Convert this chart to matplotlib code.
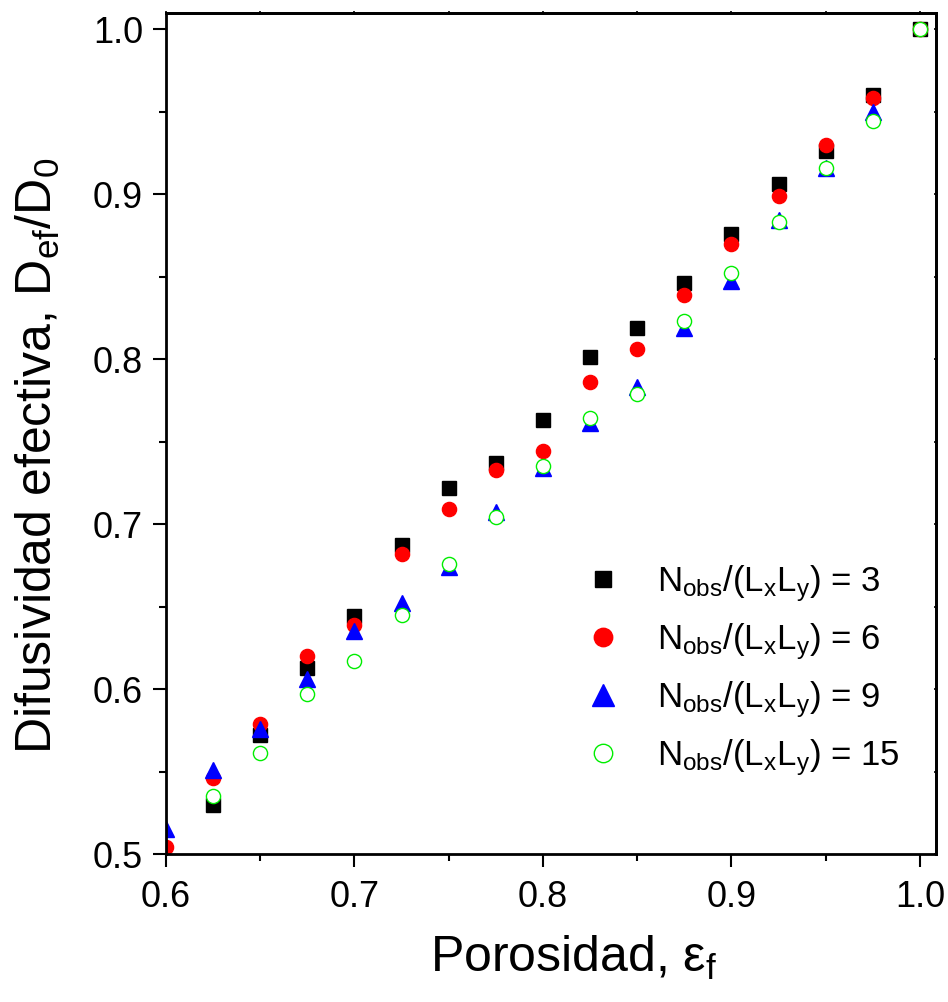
import matplotlib
matplotlib.use("Agg")
import matplotlib.pyplot as plt
from matplotlib.ticker import MultipleLocator

# porosity values
x_all = [0.6, 0.625, 0.65, 0.675, 0.7, 0.725, 0.75, 0.775, 0.8,
         0.825, 0.85, 0.875, 0.9, 0.925, 0.95, 0.975, 1.0]
x_n3 = x_all[1:]
x_n6 = x_all
x_n9 = x_all[:-1]
x_n15 = x_all[1:]

# effective diffusivity, one list per N_obs/(LxLy)
d_n3 = [0.530, 0.572, 0.613, 0.644, 0.687, 0.722, 0.737, 0.763, 0.801,
        0.819, 0.846, 0.876, 0.906, 0.926, 0.960, 1.000]
d_n6 = [0.504, 0.546, 0.579, 0.620, 0.639, 0.682, 0.709, 0.733, 0.744,
        0.786, 0.806, 0.839, 0.870, 0.899, 0.930, 0.958, 1.000]
d_n9 = [0.515, 0.551, 0.576, 0.606, 0.635, 0.652, 0.674, 0.707, 0.734,
        0.761, 0.783, 0.819, 0.847, 0.884, 0.916, 0.950]
d_n15 = [0.535, 0.561, 0.597, 0.617, 0.645, 0.676, 0.704, 0.735, 0.764,
         0.779, 0.823, 0.852, 0.883, 0.916, 0.944, 1.000]

labels = [r"$\mathregular{N_{obs}/(L_xL_y)}$ = 3",
          r"$\mathregular{N_{obs}/(L_xL_y)}$ = 6",
          r"$\mathregular{N_{obs}/(L_xL_y)}$ = 9",
          r"$\mathregular{N_{obs}/(L_xL_y)}$ = 15"]

plt.rcParams["font.family"] = ["Liberation Sans", "DejaVu Sans"]
plt.rcParams["mathtext.fontset"] = "custom"
plt.rcParams["mathtext.rm"] = "Liberation Sans"
plt.rcParams["mathtext.it"] = "Liberation Sans:italic"

fig = plt.figure(figsize=(9.48, 10.02), dpi=100)
ax = fig.add_axes([0.1751, 0.1477, 0.8122, 0.8393])

ax.plot(x_n3, d_n3, ls="none", marker="s", ms=9.4, color="black",
        label=labels[0])
ax.plot(x_n6, d_n6, ls="none", marker="o", ms=10.2, color="#ff0000",
        mec="#ff0000", label=labels[1])
ax.plot(x_n9, d_n9, ls="none", marker="^", ms=12.0, color="#0000ff",
        label=labels[2])
ax.plot(x_n15, d_n15, ls="none", marker="o", ms=10.2, mfc="white",
        mec="#00ee00", mew=1.0, label=labels[3])

ax.set_xlim(0.6, 1.0085)
ax.set_ylim(0.5, 1.0097)

ax.xaxis.set_major_locator(MultipleLocator(0.1))
ax.xaxis.set_minor_locator(MultipleLocator(0.05))
ax.yaxis.set_major_locator(MultipleLocator(0.1))
ax.yaxis.set_minor_locator(MultipleLocator(0.05))
ax.xaxis.set_major_formatter(lambda v, p: f"{v:.1f}")
ax.yaxis.set_major_formatter(lambda v, p: f"{v:.1f}")

ax.tick_params(which="major", direction="out", length=9.5, width=1.5,
               labelsize=26, pad=7)
ax.tick_params(which="minor", direction="out", length=5, width=1.5)
ax.tick_params(axis="x", which="major", pad=9)

for s in ax.spines.values():
    s.set_linewidth(2.0)

# small ticks on the top and right frame
top = ax.secondary_xaxis("top")
top.xaxis.set_major_locator(MultipleLocator(0.05))
top.tick_params(direction="inout", length=3, width=1.2, labeltop=False)
top.spines["top"].set_linewidth(2.0)
right = ax.secondary_yaxis("right")
right.yaxis.set_major_locator(MultipleLocator(0.05))
right.tick_params(direction="inout", length=3, width=1.2, labelright=False)
right.spines["right"].set_linewidth(2.0)

ax.set_xlabel(r"Porosidad, $\mathregular{ε_f}$", fontsize=36)
ax.set_ylabel(r"Difusividad efectiva, $\mathregular{D_{ef}/D_0}$", fontsize=36)
ax.xaxis.set_label_coords(0.53, -0.095)
ax.yaxis.set_label_coords(-0.135, 0.474)

ax.legend(loc="upper left", bbox_to_anchor=(0.545, 0.346), frameon=False,
          fontsize=25, markerscale=1.3, handlelength=1.0, handletextpad=1.05,
          labelspacing=0.5, borderaxespad=0, borderpad=0)

fig.savefig("out.png", dpi=100)
